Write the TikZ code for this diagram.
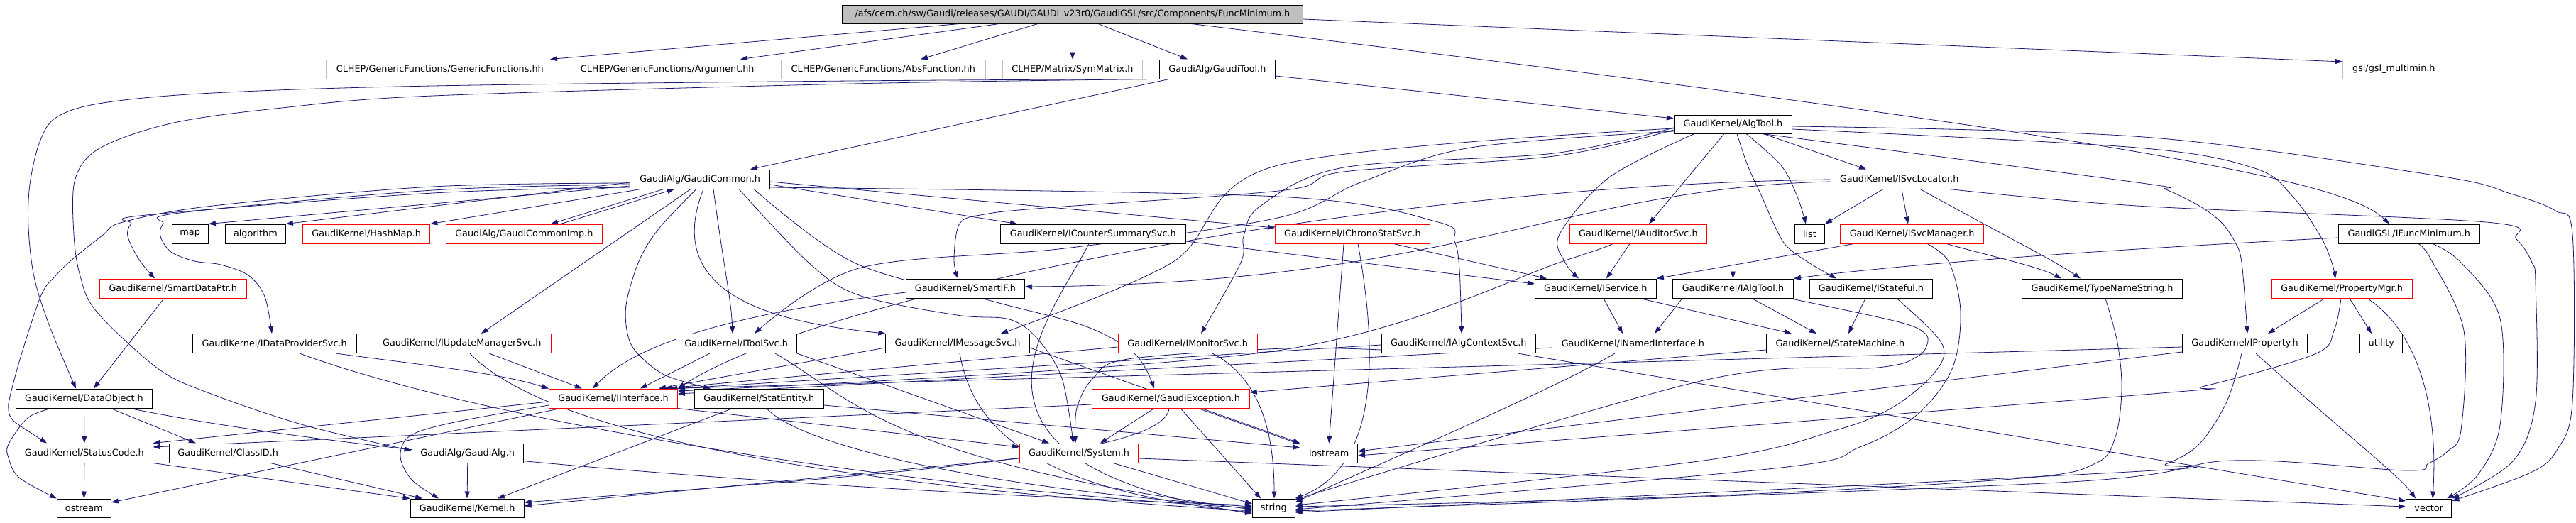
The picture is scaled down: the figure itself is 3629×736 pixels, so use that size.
\documentclass[tikz,border=0pt]{standalone}
\usepackage{fontspec}
\usetikzlibrary{arrows.meta}
\newfontfamily\dvs{DejaVu Sans}
\newcommand\nodefont{\dvs\fontsize{12.8}{14}\selectfont}
\definecolor{edgec}{RGB}{25,25,112}
\definecolor{lg}{RGB}{191,191,191}
\pgfdeclarelayer{bg}
\pgfsetlayers{bg,main}
\newcommand\nd[7]{\node[#6, minimum width=#4pt, minimum height=#5pt] (#1) at (#2,#3) {#7};}
\begin{document}
\begin{tikzpicture}[x=1pt,y=-1pt,
  nb/.style={draw=black, fill=white, line width=1pt, inner sep=0pt, font=\nodefont},
  rb/.style={nb, draw=red},
  gb/.style={nb, draw=lg},
  rootb/.style={nb, fill=lg},
  e/.style={draw=edgec, line width=0.8pt, -{Triangle[length=10pt,width=7pt]}},
  s/.style={smooth, tension=0.55}]
\useasboundingbox (0,0) rectangle (3629,736);
% ---------- nodes ----------
\nd{root}{1510.9}{20}{649}{26}{rootb}{/afs/cern.ch/sw/Gaudi/releases/GAUDI/GAUDI\_v23r0/GaudiGSL/src/Components/FuncMinimum.h}
\nd{gfun}{619.8}{97.5}{320.6}{27}{gb}{CLHEP/GenericFunctions/GenericFunctions.hh}
\nd{arg}{940.2}{97.5}{272}{27}{gb}{CLHEP/GenericFunctions/Argument.hh}
\nd{absf}{1244.3}{97.5}{288}{27}{gb}{CLHEP/GenericFunctions/AbsFunction.hh}
\nd{symm}{1510.9}{97.5}{197}{27}{gb}{CLHEP/Matrix/SymMatrix.h}
\nd{gtool}{1714.9}{97.5}{163}{27}{nb}{GaudiAlg/GaudiTool.h}
\nd{gsl}{3372.3}{97.5}{143.5}{27}{gb}{gsl/gsl\_multimin.h}
\nd{algtool}{2441.4}{175}{166.2}{26}{nb}{GaudiKernel/AlgTool.h}
\nd{gcommon}{986.1}{252.5}{196.4}{27}{nb}{GaudiAlg/GaudiCommon.h}
\nd{isvcloc}{2675.7}{252.5}{193.3}{27}{nb}{GaudiKernel/ISvcLocator.h}
\nd{map}{267.7}{329.5}{51.3}{27}{nb}{map}
\nd{algorithm}{359.9}{329.5}{84.9}{27}{nb}{algorithm}
\nd{hashmap}{516.1}{329.5}{179.3}{27}{rb}{GaudiKernel/HashMap.h}
\nd{gcimp}{738.3}{329.5}{219.8}{27}{rb}{GaudiAlg/GaudiCommonImp.h}
\nd{icounter}{1539.8}{329.5}{261}{27}{nb}{GaudiKernel/ICounterSummarySvc.h}
\nd{ichrono}{1905.4}{329.5}{218}{27}{rb}{GaudiKernel/IChronoStatSvc.h}
\nd{iauditor}{2307.9}{329.5}{193.3}{27}{rb}{GaudiKernel/IAuditorSvc.h}
\nd{list}{2549.4}{329.5}{42}{27}{nb}{list}
\nd{isvcmgr}{2693.6}{329.5}{201.9}{27}{rb}{GaudiKernel/ISvcManager.h}
\nd{ifm}{3393.8}{329.5}{198.4}{27}{nb}{GaudiGSL/IFuncMinimum.h}
\nd{sdptr}{243.7}{406.5}{207.4}{27}{rb}{GaudiKernel/SmartDataPtr.h}
\nd{smartif}{1359.9}{406.5}{167.3}{27}{nb}{GaudiKernel/SmartIF.h}
\nd{iservice}{2247.8}{406.5}{171.1}{27}{nb}{GaudiKernel/IService.h}
\nd{ialgtool}{2441.4}{406.5}{170.1}{27}{nb}{GaudiKernel/IAlgTool.h}
\nd{istateful}{2636}{406.5}{173.1}{27}{nb}{GaudiKernel/IStateful.h}
\nd{typename}{2961.5}{406.5}{226}{27}{nb}{GaudiKernel/TypeNameString.h}
\nd{propmgr}{3299.1}{406.5}{198}{27}{rb}{GaudiKernel/PropertyMgr.h}
\nd{idataprov}{386.7}{484}{231}{27}{nb}{GaudiKernel/IDataProviderSvc.h}
\nd{iupdate}{650.7}{484}{251}{27}{rb}{GaudiKernel/IUpdateManagerSvc.h}
\nd{itoolsvc}{1037.1}{484}{170}{27}{nb}{GaudiKernel/IToolSvc.h}
\nd{imessage}{1349}{484}{202.2}{27}{nb}{GaudiKernel/IMessageSvc.h}
\nd{imonitor}{1673.1}{484}{196.1}{27}{rb}{GaudiKernel/IMonitorSvc.h}
\nd{ialgctx}{2054.8}{484}{217}{27}{nb}{GaudiKernel/IAlgContextSvc.h}
\nd{inamed}{2300.4}{484}{228.1}{27}{nb}{GaudiKernel/INamedInterface.h}
\nd{statemachine}{2592.4}{484}{208.1}{27}{nb}{GaudiKernel/StateMachine.h}
\nd{iproperty}{3162.6}{484}{176.2}{27}{nb}{GaudiKernel/IProperty.h}
\nd{utility}{3354.8}{484}{60.3}{27}{nb}{utility}
\nd{dataobj}{118.5}{561.5}{191.8}{27}{nb}{GaudiKernel/DataObject.h}
\nd{iinterface}{864}{561.5}{180.9}{27}{rb}{GaudiKernel/IInterface.h}
\nd{statentity}{1069.2}{561.5}{182.1}{27}{nb}{GaudiKernel/StatEntity.h}
\nd{gexc}{1649.4}{561.5}{221.7}{27}{rb}{GaudiKernel/GaudiException.h}
\nd{statuscode}{118.9}{638.5}{192.5}{27}{rb}{GaudiKernel/StatusCode.h}
\nd{classid}{321.2}{638.5}{166.1}{27}{nb}{GaudiKernel/ClassID.h}
\nd{galg}{658.7}{638.5}{157.3}{27}{nb}{GaudiAlg/GaudiAlg.h}
\nd{system}{1520}{638.5}{166.9}{27}{rb}{GaudiKernel/System.h}
\nd{iostream}{1872.2}{638.5}{80.5}{27}{nb}{iostream}
\nd{ostream}{118.3}{716}{76.3}{26}{nb}{ostream}
\nd{kernel}{658.1}{716}{160}{26}{nb}{GaudiKernel/Kernel.h}
\nd{string}{1794.3}{716}{59.6}{26}{nb}{string}
\nd{vector}{3421.7}{716}{64.2}{26}{nb}{vector}
\begin{pgfonlayer}{bg}
\fill[white] (0,0) rectangle (3629,736);
% ---------- edges: root ----------
\draw[e] (1352,0 |- root.south) -- (775,0 |- gfun.north);
\draw[e] (1408,0 |- root.south) -- (1043,0 |- arg.north);
\draw[e] (1462,0 |- root.south) -- (1297,0 |- absf.north);
\draw[e] (root.south) -- (symm.north);
\draw[e] (1547,0 |- root.south) -- (1673,0 |- gtool.north);
\draw[e] (root.east |- 0,27) -- (gsl.west |- 0,87);
\draw[e] (1678,0 |- root.south) .. controls (3100,205) and (3310,262) .. (3366,0 |- ifm.north);
% ---------- GaudiTool ----------
\draw[e] (gtool.east |- 0,107) -- (algtool.west |- 0,167);
\draw[e] (1647,0 |- gtool.south) -- (1057,0 |- gcommon.north);
\draw[e] plot[s] coordinates {(1640,0 |- gtool.south) (1200,114) (610,121) (300,131) (145,145) (80,165) (56,200) (42,260) (40,320) (48,390) (70,460) (107,0 |- dataobj.north)};
\draw[e] plot[s] coordinates {(1625,0 |- gtool.south) (1200,118) (610,135) (397,152) (245,173) (142,208) (106,252) (104,330) (113,389) (136,439) (222,519) (292,553) (428,599) (galg.west |- 0,635)};
% ---------- GaudiCommon ----------
\draw[e] (gcommon.west |- 0,262) -- (map.north east);
\draw[e] (gcommon.west |- 0,257) -- (algorithm.north east);
\draw[e] (903,0 |- gcommon.south) -- (hashmap.north east);
\draw[e] (935,0 |- gcommon.south) -- (776,0 |- gcimp.north);
\draw[e] (790,0 |- gcimp.north) -- (950,0 |- gcommon.south);
\draw[e] (gcommon.east |- 0,260) -- (1433,0 |- icounter.north);
\draw[e] (gcommon.east |- 0,256) -- (ichrono.west |- 0,321);
\draw[e] plot[s] coordinates {(gcommon.west |- 0,264) (610,272) (206,303) (185,315) (180,333) (196,366) (218,0 |- sdptr.north)};
\draw[e] plot[s] coordinates {(gcommon.west |- 0,260) (610,268) (253,300) (230,315) (226,333) (241,355) (274,368) (311,373) (350,388) (373,418) (383,0 |- idataprov.north)};
\draw[e] plot[s] coordinates {(gcommon.west |- 0,258) (610,263) (300,290) (173,313) (144,332) (99,368) (78,389) (58,416) (30,500) (14,559) (12,578) (18,592) (39,607) (66,0 |- statuscode.north)};
\draw[e] (973,0 |- gcommon.south) -- (678,0 |- iupdate.north);
\draw[e] (1005,0 |- gcommon.south) .. controls (1020,380) and (1030,420) .. (1032,0 |- itoolsvc.north);
\draw[e] plot[s] coordinates {(981,0 |- gcommon.south) (930,320) (901,366) (882,430) (886,478) (905,505) (940,530) (1001,0 |- statentity.north)};
\draw[e] (991,0 |- gcommon.south) .. controls (930,420) and (1100,455) .. (imessage.north west);
\draw[e] plot[s] coordinates {(1041,0 |- gcommon.south) (1139,370) (1210,416) (1348,444) (1422,450) (1462,478) (1496,533) (1512,0 |- system.north)};
\draw[e] plot[s] coordinates {(1062,0 |- gcommon.south) (1203,370) (1400,425) (1530,460) (1600,500) (1626,0 |- gexc.north)};
\draw[e] plot[s] coordinates {(gcommon.east |- 0,264) (1800,277) (2026,313) (2049,340) (2056,380) (2059,0 |- ialgctx.north)};
% ---------- AlgTool ----------
\draw[e] (2484,0 |- algtool.south) -- (2629,0 |- isvcloc.north);
\draw[e] plot[s] coordinates {(2460,0 |- algtool.south) (2509,233) (2532,277) (2544,0 |- list.north)};
\draw[e] (algtool.south) -- (ialgtool.north);
\draw[e] (2429,0 |- algtool.south) -- (2323,0 |- iauditor.north);
\draw[e] plot[s] coordinates {(algtool.west |- 0,180) (2189,216) (1893,236) (1776,290) (1752,333) (1748,370) (1692,0 |- imonitor.north)};
\draw[e] plot[s] coordinates {(algtool.west |- 0,183) (2189,220) (1893,242) (1810,268) (1472,293) (1387,302) (1352,315) (1344,366) (1350,0 |- smartif.north)};
\draw[e] plot[s] coordinates {(2387,0 |- algtool.south) (2267,250) (2197,330) (2205,370) (2224,0 |- iservice.north)};
\draw[e] plot[s] coordinates {(algtool.west |- 0,185) (2072,208) (1917,257) (1800,307) (1500,350) (1210,378) (1063,0 |- itoolsvc.north)};
\draw[e] plot[s] coordinates {(algtool.west |- 0,181) (1800,233) (1651,370) (1410,0 |- imessage.north)};
\draw[e] plot[s] coordinates {(2482,0 |- algtool.south) (3010,257) (3051,267) (3098,290) (3129,313) (3148,340) (3158,370) (3166,0 |- iproperty.north)};
\draw[e] plot[s] coordinates {(algtool.east |- 0,182) (3010,208) (3176,237) (3230,277) (3269,333) (3285,370) (3290,0 |- propmgr.north)};
\draw[e] plot[s] coordinates {(algtool.east |- 0,178) (3020,193) (3436,248) (3537,273) (3600,297) (3624,330) (3624,566) (3603,633) (3565,666) (vector.east |- 0,706)};
\draw[e] plot[s] coordinates {(2447,0 |- algtool.south) (2462,233) (2482,277) (2501,320) (2517,347) (2548,370) (2587,0 |- istateful.north)};
% ---------- ISvcLocator ----------
\draw[e] (2653,0 |- isvcloc.south) -- (list.north east);
\draw[e] (2679,0 |- isvcloc.south) -- (2688,0 |- isvcmgr.north);
\draw[e] (2705,0 |- isvcloc.south) .. controls (2820,330) and (2890,365) .. (2931,0 |- typename.north);
\draw[e] (isvcloc.west |- 0,253) .. controls (1900,262) and (1150,420) .. (iinterface.north east);
\draw[e] (isvcloc.west |- 0,256) .. controls (2200,265) and (2050,400) .. (smartif.east |- 0,404);
\draw[e] plot[s] coordinates {(2746,0 |- isvcloc.south) (3010,290) (3502,313) (3545,337) (3567,370) (3572,399) (3572,566) (3540,650) (vector.north east)};
% ---------- ISvcManager ----------
\draw[e] (2612,0 |- isvcmgr.south) -- (iservice.north east);
\draw[e] (2742,0 |- isvcmgr.south) .. controls (2800,360) and (2870,375) .. (2904,0 |- typename.north);
\draw[e] plot[s] coordinates {(2715,0 |- isvcmgr.south) (2746,370) (2762,440) (2750,520) (2700,585) (2620,630) (2500,660) (string.east |- 0,718)};
% ---------- IFuncMinimum ----------
\draw[e] (ifm.west |- 0,335) .. controls (3000,350) and (2700,370) .. (ialgtool.north east);
\draw[e] plot[s] coordinates {(3427,0 |- ifm.south) (3467,370) (3522,449) (3522,599) (3490,670) (3447,0 |- vector.north)};
\draw[e] plot[s] coordinates {(3407,0 |- ifm.south) (3425,366) (3471,466) (3467,606) (3448,636) (3421,653) (3390,663) (3144,649) (2900,680) (string.east |- 0,720)};
% ---------- ICounterSummarySvc, IChronoStatSvc, IAuditorSvc ----------
\draw[e] (icounter.east |- 0,340) -- (iservice.west |- 0,400);
\draw[e] (1534,0 |- icounter.south) .. controls (1480,450) and (1300,650) .. (string.west |- 0,724);
\draw[e] (1963,0 |- ichrono.south) -- (2179,0 |- iservice.north);
\draw[e] (1893,0 |- ichrono.south) -- (iostream.north);
\draw[e] (1913,0 |- ichrono.south) .. controls (1945,520) and (1935,660) .. (string.north east);
\draw[e] (2296,0 |- iauditor.south) -- (2263,0 |- iservice.north);
\draw[e] plot[s] coordinates {(2271,0 |- iauditor.south) (2208,366) (1800,494) (iinterface.east |- 0,551)};
% ---------- IService, IAlgTool, IStateful ----------
\draw[e] (2259,0 |- iservice.south) -- (2286,0 |- inamed.north);
\draw[e] (2310,0 |- iservice.south) -- (2524,0 |- statemachine.north);
\draw[e] (2370,0 |- ialgtool.south) -- (2331,0 |- inamed.north);
\draw[e] (2468,0 |- ialgtool.south) -- (2559,0 |- statemachine.north);
\draw[e] plot[s] coordinates {(2521,0 |- ialgtool.south) (2672,453) (2711,469) (2715,485) (2700,503) (2645,518) (2400,536) (string.east |- 0,704)};
\draw[e] (2628,0 |- istateful.south) -- (2604,0 |- statemachine.north);
\draw[e] plot[s] coordinates {(2672,0 |- istateful.south) (2735,483) (2727,523) (2668,573) (2587,606) (2400,649) (string.east |- 0,712)};
\draw[e] (statemachine.west |- 0,493) -- (gexc.east |- 0,553);
% ---------- TypeNameString, IProperty, PropertyMgr ----------
\draw[e] plot[s] coordinates {(2966,0 |- typename.south) (2983,483) (2989,549) (2980,616) (2952,653) (2847,674) (2400,699) (string.east |- 0,714)};
\draw[e] (iproperty.west |- 0,489) -- (944,0 |- iinterface.north);
\draw[e] (iproperty.west |- 0,496) -- (iostream.east |- 0,636);
\draw[e] plot[s] coordinates {(3158,0 |- iproperty.south) (3137,566) (3098,626) (3051,654) (3000,665) (string.east |- 0,722)};
\draw[e] (3178,0 |- iproperty.south) .. controls (3290,600) and (3380,670) .. (3403,0 |- vector.north);
\draw[e] (3275,0 |- propmgr.south) -- (3195,0 |- iproperty.north);
\draw[e] (3310,0 |- propmgr.south) -- (3341,0 |- utility.north);
\draw[e] (3335,0 |- propmgr.south) .. controls (3410,470) and (3435,580) .. (3427,0 |- vector.north);
\draw[e] plot[s] coordinates {(3298,0 |- propmgr.south) (3288,466) (3261,499) (3106,544) (3020,556) (iostream.east |- 0,642)};
% ---------- middle row ----------
\draw[e] (smartif.west |- 0,412) .. controls (1050,440) and (900,480) .. (835,0 |- iinterface.north);
\draw[e] (imessage.west |- 0,490) -- (928,0 |- iinterface.north);
\draw[e] (1352,0 |- imessage.south) .. controls (1370,600) and (1450,690) .. (string.west |- 0,722);
\draw[e] (imessage.east |- 0,490) -- (iostream.north west);
\draw[e] (imonitor.west |- 0,489) -- (936,0 |- iinterface.north);
\draw[e] (1708,0 |- imonitor.south) .. controls (1770,530) and (1795,600) .. (1795,0 |- string.north);
\draw[e] (ialgctx.west |- 0,486) -- (iinterface.north east);
\draw[e] plot[s] coordinates {(ialgctx.west |- 0,493) (1810,491) (1589,506) (1540,533) (1517,575) (1515,0 |- system.north)};
\draw[e] (2138,0 |- ialgctx.south) -- (vector.west |- 0,706);
\draw[e] (inamed.west |- 0,490) -- (iinterface.east |- 0,555);
\draw[e] (2275,0 |- inamed.south) .. controls (2189,549) and (1950,650) .. (string.east |- 0,708);
\draw[e] (1000,0 |- itoolsvc.south) -- (902,0 |- iinterface.north);
\draw[e] (1092,0 |- itoolsvc.south) .. controls (1200,560) and (1250,650) .. (string.west |- 0,718);
\draw[e] (itoolsvc.south east) -- (1478,0 |- system.north);
\draw[e] (689,0 |- iupdate.south) -- (820,0 |- iinterface.north);
\draw[e] (662,0 |- iupdate.south) .. controls (760,600) and (1100,680) .. (string.west |- 0,720);
\draw[e] (473,0 |- idataprov.south) .. controls (600,515) and (700,525) .. (iinterface.north west);
\draw[e] (422,0 |- idataprov.south) .. controls (700,600) and (1300,690) .. (string.west |- 0,716);
\draw[e] (231,0 |- sdptr.south) -- (132,0 |- dataobj.north);
% ---------- lower rows ----------
\draw[e] (dataobj.south) -- (statuscode.north);
\draw[e] (156,0 |- dataobj.south) -- (276,0 |- classid.north);
\draw[e] plot[s] coordinates {(72,0 |- dataobj.south) (39,589) (12,626) (12,645) (27,673) (ostream.north west)};
\draw[e] (183,0 |- dataobj.south) .. controls (600,660) and (1400,700) .. (string.west |- 0,712);
\draw[e] (statuscode.south) -- (ostream.north);
\draw[e] (215,0 |- statuscode.south) -- (kernel.north west);
\draw[e] (381,0 |- classid.south) -- (595,0 |- kernel.north);
\draw[e] (galg.south) -- (kernel.north);
\draw[e] (iinterface.west |- 0,566) -- (statuscode.north east);
\draw[e] (790,0 |- iinterface.south) -- (ostream.east |- 0,708);
\draw[e] plot[s] coordinates {(iinterface.west |- 0,571) (640,595) (578,614) (564,643) (580,676) (618,0 |- kernel.north)};
\draw[e] (iinterface.south east) -- (system.west |- 0,630);
\draw[e] (1032,0 |- statentity.south) -- (701,0 |- kernel.north);
\draw[e] (1080,0 |- statentity.south) .. controls (1130,630) and (1400,690) .. (string.west |- 0,714);
\draw[e] (statentity.east |- 0,571) -- (iostream.west |- 0,631);
\draw[e] (1626,0 |- gexc.south) -- (1550,0 |- system.north);
\draw[e] (1663,0 |- gexc.south) -- (1776,0 |- string.north);
\draw[e] (gexc.west |- 0,570) -- (statuscode.east |- 0,630);
\draw[e] (1647,0 |- gexc.south) .. controls (1640,640) and (1300,665) .. (kernel.east |- 0,708);
\draw[e] (1688,0 |- gexc.south) -- (iostream.west |- 0,626);
\draw[e] (1568,0 |- system.south) -- (string.west |- 0,710);
\draw[e] (system.west |- 0,646) -- (kernel.east |- 0,713);
\draw[e] (system.east |- 0,646) -- (vector.west |- 0,714);
\end{pgfonlayer}
\end{tikzpicture}
\end{document}
